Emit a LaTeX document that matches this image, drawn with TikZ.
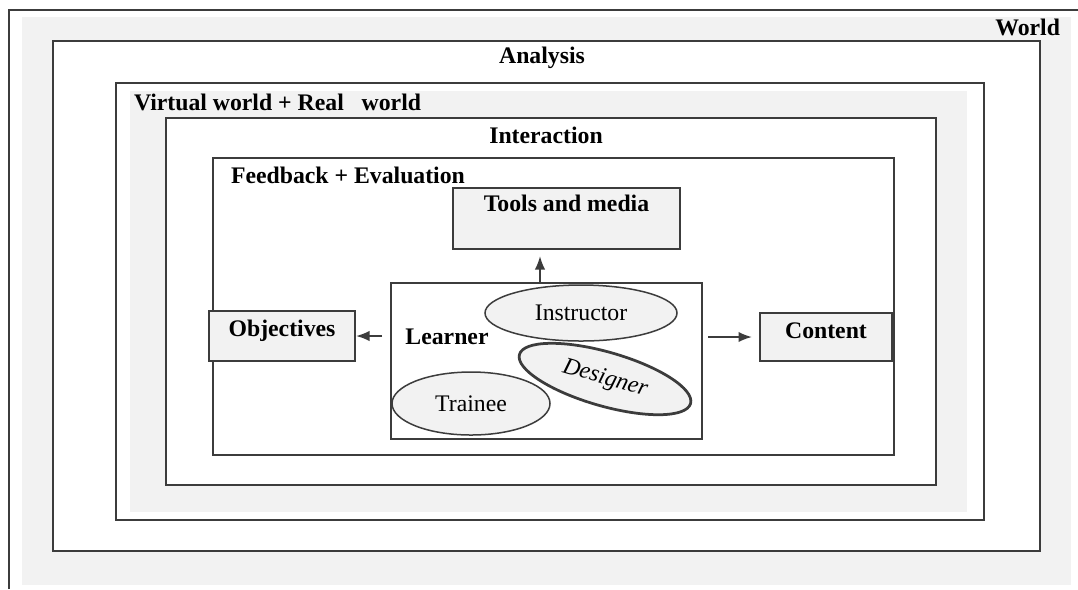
\documentclass[tikz,border=0pt]{standalone}
\usepackage{fontspec}
\setmainfont{Liberation Serif}
\usetikzlibrary{shapes.geometric,arrows.meta}
\definecolor{paleback}{RGB}{242,242,242}
\definecolor{ink}{RGB}{60,60,60}
\newcommand\figfont{\fontsize{9.5}{11.5}\selectfont}
\tikzset{
  lbl/.style={font=\figfont\bfseries, inner sep=0pt},
  box/.style={draw=ink, line width=0.8pt, fill=paleback, inner ysep=2pt, font=\figfont\bfseries},
  role/.style={ellipse, draw=ink, line width=0.6pt, fill=paleback, inner sep=0pt, font=\figfont}
}
\begin{document}
\begin{tikzpicture}[x=0.4pt, y=-0.4pt, >={Latex[length=5.4pt,width=4.2pt]}, line width=0.8pt]
\useasboundingbox (0,0) rectangle (1078,589);
% nested frames
\draw[ink] (9,589) -- (9,10) -- (1078,10);
\fill[paleback] (22,17) rectangle (1071,585);
\filldraw[fill = white, draw = ink] (53,41) rectangle (1040,551);
\filldraw[fill = white, draw = ink] (116,83) rectangle (984,520);
\fill[paleback] (130,91) rectangle (967,512);
\filldraw[fill = white, draw = ink] (166,118) rectangle (936,485);
\filldraw[fill = white, draw = ink] (213,158) rectangle (894,455);
% frame labels
\node[lbl, anchor=east] (world) at (1061,27) {World};
\node[lbl] (analysis) at (542,58) {Analysis};
\node[lbl, anchor=west] (virtual) at (133,102) {Virtual world + Real\ \ \ world};
\node[lbl] (interaction) at (546,135) {Interaction};
\node[lbl, anchor=west] (feedback) at (230,175) {Feedback + Evaluation};
% boxes
\node[box, minimum width=90.8pt, text height=7.2pt, text depth=13.2pt] (tools) at (566.5,218.5) {Tools and media};
\node[box, minimum width=58.4pt, text height=8.2pt, text depth=7.8pt] (objectives) at (282,336) {Objectives};
\node[box, minimum width=52.8pt, text height=8.2pt, text depth=7pt] (content) at (826,337) {Content};
\node[draw=ink, fill=white, minimum width=124.4pt, minimum height=62.4pt] (learner) at (546.5,361) {};
\node[lbl] (learnertxt) at (447,337) {Learner};
% roles
\node[role, minimum width=76.8pt, minimum height=22.4pt] (instructor) at (581,313) {Instructor};
\node[role, line width=1.1pt, rotate=-16, minimum width=71.2pt, minimum height=21.6pt, font=\figfont\itshape] (designer) at (605,379) {Designer};
\node[role, minimum width=63.2pt, minimum height=25.2pt] (trainee) at (471,403.5) {Trainee};
% arrows
\draw[->, ink, shorten >=2.4pt] ([xshift=-2.6pt]learner.north) -- ([xshift=-2.6pt]learner.north |- tools.south);
\draw[->, ink, shorten <=3.2pt] (learner.west |- objectives.east) -- (objectives.east);
\draw[->, ink, shorten <=2pt, shorten >=2.8pt] (learner.east |- content.west) -- (content.west);
\end{tikzpicture}
\end{document}
